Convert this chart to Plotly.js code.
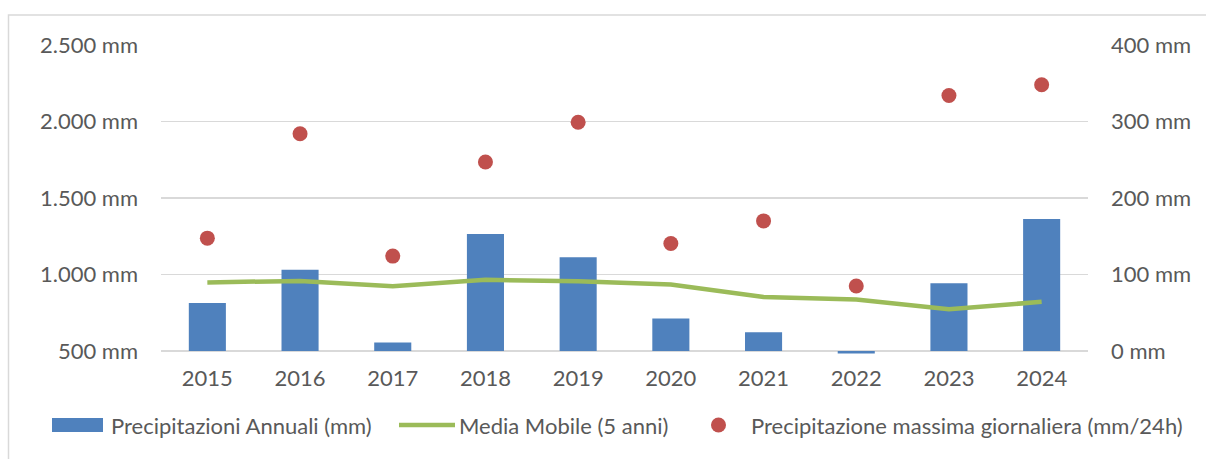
<!DOCTYPE html>
<html>
<head>
<meta charset="utf-8">
<script src="https://cdn.plot.ly/plotly-3.0.1.min.js"></script>
<style>html,body{margin:0;padding:0;background:#fff;}#chart{width:1206px;height:459px;}</style>
</head>
<body>
<div id="chart"></div>
<script>
const years = ['2015','2016','2017','2018','2019','2020','2021','2022','2023','2024'];
const annualRain = [814, 1030, 555, 1264, 1113, 712, 622, 483, 943, 1362];
const movingAvg = [948, 958, 923, 965, 956, 935, 853, 836, 773, 821];
const maxDaily = [147.5, 284, 124, 247, 299, 140.5, 170, 85, 334, 348];
const barBase = 500;

const seriesNames = ['Precipitazioni Annuali (mm)', 'Media Mobile (5 anni)', 'Precipitazione massima giornaliera (mm/24h)'];
const cBar = '#4f81bd', cLine = '#9bbb59', cDot = '#c0504d';
const txt = '#595959';
const FONT = 'Lato, "Open Sans", sans-serif';
const FS = 22;

const traces = [
  {type:'bar', x:years, y:annualRain.map(v => v - barBase), base:barBase, width:0.4,
   marker:{color:cBar}, name:seriesNames[0], yaxis:'y', showlegend:false},
  {type:'scatter', mode:'lines', x:years, y:movingAvg, line:{color:cLine, width:4.5},
   name:seriesNames[1], yaxis:'y', showlegend:false},
  {type:'scatter', mode:'markers', x:years, y:maxDaily, marker:{color:cDot, size:15},
   name:seriesNames[2], yaxis:'y2', showlegend:false}
];

// plot area extends a little below the 500 mm baseline so bars below it stay visible
const L = 161, R = 118, T = 45, B = 105, W = 1206, H = 459;
const pw = W - L - R, ph = H - T - B;
const px = x => (x - L) / pw;
const py = y => (H - B - y) / ph;

const shapes = [
  {type:'rect', xref:'paper', yref:'paper', x0:px(8.5), x1:px(1215), y0:py(15), y1:py(470),
   line:{color:'#d9d9d9', width:1.5}, fillcolor:'rgba(0,0,0,0)', layer:'below'},
  {type:'rect', xref:'paper', yref:'paper', x0:px(52), x1:px(103), y0:py(432), y1:py(418),
   fillcolor:cBar, line:{width:0}},
  {type:'line', xref:'paper', yref:'paper', x0:px(399), x1:px(455), y0:py(425), y1:py(425),
   line:{color:cLine, width:4.5}},
  {type:'circle', xref:'paper', yref:'paper', x0:px(711), x1:px(726), y0:py(432.5), y1:py(417.5),
   fillcolor:cDot, line:{width:0}}
];

const annotations = [
  {text:seriesNames[0], x:px(109), y:py(425), xanchor:'left', yanchor:'middle'},
  {text:seriesNames[1], x:px(457), y:py(425), xanchor:'left', yanchor:'middle'},
  {text:seriesNames[2], x:px(749), y:py(425), xanchor:'left', yanchor:'middle'}
].map(a => Object.assign(a, {xref:'paper', yref:'paper', showarrow:false,
   font:{family:FONT, size:FS, color:txt}}));

const layout = {
  width:W, height:H,
  margin:{l:L, r:R, t:T, b:B, pad:0},
  paper_bgcolor:'#fff', plot_bgcolor:'#fff',
  separators:',.',
  font:{family:FONT, size:FS, color:txt},
  showlegend:false,
  xaxis:{type:'category', range:[-0.5, 9.5], showgrid:false, zeroline:false,
         showline:false, ticks:'',
         ticklabelstandoff:9, tickfont:{family:FONT, size:FS, color:txt}, fixedrange:true},
  yaxis:{range:[480, 2500], dtick:500, tick0:500, tickformat:',d', ticksuffix:' mm',
         showgrid:true, gridcolor:'#d9d9d9', gridwidth:1.5, zeroline:false, showline:false,
         ticks:'', ticklabelstandoff:22, tickfont:{family:FONT, size:FS, color:txt}},
  yaxis2:{range:[-4, 400], dtick:100, tick0:0, ticksuffix:' mm', overlaying:'y', side:'right',
          showgrid:false, zeroline:false, showline:false, ticks:'', ticklabelstandoff:22,
          tickfont:{family:FONT, size:FS, color:txt}},
  shapes:shapes,
  annotations:annotations
};

Plotly.newPlot('chart', traces, layout, {staticPlot:true, displayModeBar:false});
</script>
</body>
</html>
